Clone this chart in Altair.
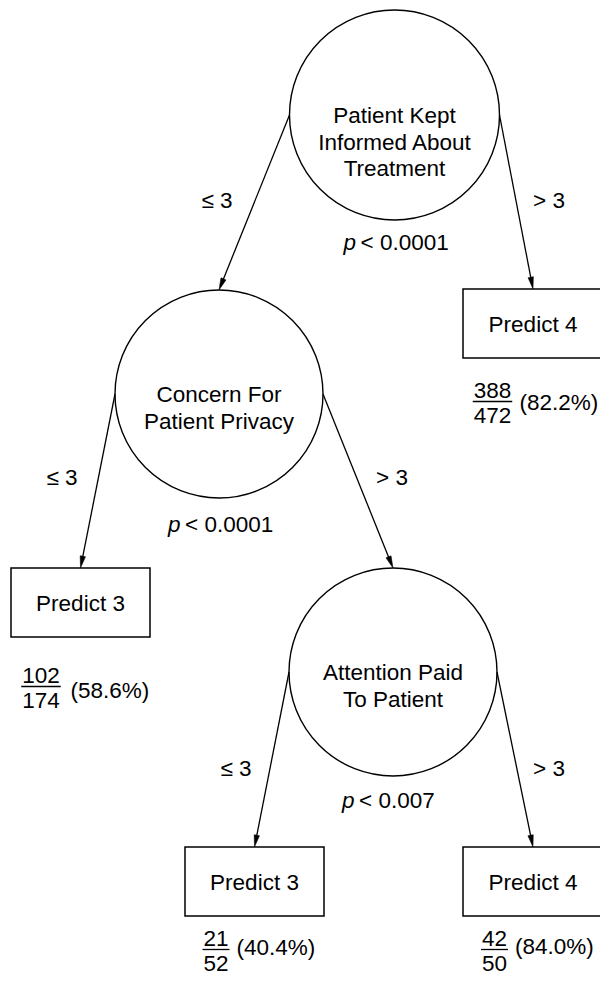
import altair as alt
import pandas as pd
import numpy as np

# ---- split (circle) nodes ----
split_text = ["Patient Kept\nInformed About\nTreatment", "Concern For\nPatient Privacy", "Attention Paid\nTo Patient"]
split_x = [394.5, 219.0, 393.0]
split_y = [115.0, 394.0, 672.0]
split_r = [105.0, 104.0, 104.0]
split_p = ["< 0.0001", "< 0.0001", "< 0.007"]
split_py = [241.5, 524.0, 800.0]

# ---- leaf (box) nodes ----
leaf_text = ["Predict 4", "Predict 3", "Predict 3", "Predict 4"]
leaf_x = [533.0, 80.5, 254.5, 533.0]
leaf_y = [323.5, 602.5, 881.5, 881.5]
leaf_w = [140.0, 139.0, 139.0, 140.0]
leaf_h = [69.0, 69.0, 69.0, 69.0]
leaf_num = ["388", "102", "21", "42"]
leaf_den = ["472", "174", "52", "50"]
leaf_pct = ["(82.2%)", "(58.6%)", "(40.4%)", "(84.0%)"]
frac_x = [492.5, 41.0, 216.0, 494.5]
frac_y = [401.5, 686.5, 949.5, 949.5]
pct_x = [519.5, 70.5, 236.5, 515.0]
pct_y = [402.0, 690.0, 947.0, 946.0]

# ---- edges ----
edge_parent = [0, 0, 1, 1, 2, 2]
edge_side = [-1, 1, -1, 1, -1, 1]
edge_child_kind = ["split", "leaf", "leaf", "split", "leaf", "leaf"]
edge_child_idx = [1, 0, 1, 2, 2, 3]
edge_text = ["≤ 3", "> 3", "≤ 3", "> 3", "≤ 3", "> 3"]
edge_lx = [217.0, 549.0, 62.0, 392.0, 236.0, 549.0]
edge_ly = [200.0, 199.5, 476.5, 476.5, 768.0, 768.0]

FONT = "Liberation Sans"
FS = 22.5
ARROW_R = 6.0

splits = pd.DataFrame({
    "text": split_text, "x": split_x, "y": split_y, "r": split_r,
    "p": split_p, "py": split_py,
})
splits["size"] = (2 * splits["r"]) ** 2
splits["px_p"] = splits["x"] - 51.0
splits["px_rest"] = splits["x"] - 34.0

leaves = pd.DataFrame({
    "text": leaf_text, "x": leaf_x, "y": leaf_y, "w": leaf_w, "h": leaf_h,
    "num": leaf_num, "den": leaf_den, "pct": leaf_pct,
    "fx": frac_x, "fy": frac_y, "pcx": pct_x, "pcy": pct_y,
})
leaves["x1"] = leaves["x"] - leaves["w"] / 2
leaves["x2"] = leaves["x"] + leaves["w"] / 2
leaves["y1"] = leaves["y"] - leaves["h"] / 2
leaves["y2"] = leaves["y"] + leaves["h"] / 2
leaves["numy"] = leaves["fy"] - 11.5
leaves["deny"] = leaves["fy"] + 13.0
ulw = leaves["num"].str.len() * 12.5 + 2
leaves["ux1"] = leaves["fx"] - ulw / 2
leaves["ux2"] = leaves["fx"] + ulw / 2

rows = []
for i in range(len(edge_parent)):
    p = edge_parent[i]
    sx = split_x[p] + edge_side[i] * split_r[p]
    sy = split_y[p]
    c = edge_child_idx[i]
    if edge_child_kind[i] == "split":
        tx, ty = split_x[c], split_y[c] - split_r[c]
    else:
        tx, ty = leaf_x[c], leaf_y[c] - leaf_h[c] / 2
    dx, dy = tx - sx, ty - sy
    L = np.hypot(dx, dy)
    ux, uy = dx / L, dy / L
    ang = np.degrees(np.arctan2(-dx, dy)) % 360
    rows.append({
        "x": sx, "y": sy, "x2": tx - ux * ARROW_R, "y2": ty - uy * ARROW_R,
        "ax": tx - ux * ARROW_R, "ay": ty - uy * ARROW_R, "ang": ang,
        "label": edge_text[i], "lx": edge_lx[i], "ly": edge_ly[i],
    })
edges = pd.DataFrame(rows)

xs = alt.Scale(domain=[8, 600], nice=False, zero=False)
ys = alt.Scale(domain=[8, 976], nice=False, zero=False, reverse=True)


def X(f):
    return alt.X(f, type="quantitative", scale=xs, axis=None)


def Y(f):
    return alt.Y(f, type="quantitative", scale=ys, axis=None)


lines = alt.Chart(edges).mark_rule(color="black", strokeWidth=1.3).encode(
    x=X("x"), y=Y("y"), x2=alt.X2("x2"), y2=alt.Y2("y2"))

heads = alt.Chart(edges).mark_point(
    shape="M-0.45,-1L0.45,-1L0,1Z", filled=True, fill="black", stroke="black",
    strokeWidth=0.5, opacity=1, size=(2 * ARROW_R) ** 2
).encode(x=X("ax"), y=Y("ay"), angle=alt.Angle("ang:Q", scale=None))

circles = alt.Chart(splits).mark_point(
    shape="circle", filled=False, stroke="black", strokeWidth=1.4, opacity=1
).encode(x=X("x"), y=Y("y"), size=alt.Size("size:Q", scale=None, legend=None))

boxes = alt.Chart(leaves).mark_rect(
    fill="white", stroke="black", strokeWidth=1.5
).encode(x=X("x1"), x2=alt.X2("x2"), y=Y("y1"), y2=alt.Y2("y2"))

txt = dict(font=FONT, fontSize=FS, color="black", baseline="middle", dy=1)

split_lbl = alt.Chart(splits).mark_text(align="center", lineBreak="\n", lineHeight=26.5, **txt).encode(
    x=X("x"), y=Y("y"), text="text:N")
p_lbl = alt.Chart(splits).mark_text(align="left", fontStyle="italic", **txt).encode(
    x=X("px_p"), y=Y("py"), text="pp:N").transform_calculate(pp="'p'")
p_rest = alt.Chart(splits).mark_text(align="left", **txt).encode(
    x=X("px_rest"), y=Y("py"), text="p:N")

leaf_lbl = alt.Chart(leaves).mark_text(align="center", **txt).encode(
    x=X("x"), y=Y("y"), text="text:N")
num_lbl = alt.Chart(leaves).mark_text(align="center", **txt).encode(
    x=X("fx"), y=Y("numy"), text="num:N")
den_lbl = alt.Chart(leaves).mark_text(align="center", **txt).encode(
    x=X("fx"), y=Y("deny"), text="den:N")
ul = alt.Chart(leaves).mark_rule(color="black", strokeWidth=1.3).encode(
    x=X("ux1"), x2=alt.X2("ux2"), y=Y("fy"))
pct_lbl = alt.Chart(leaves).mark_text(align="left", **txt).encode(
    x=X("pcx"), y=Y("pcy"), text="pct:N")

edge_lbl = alt.Chart(edges).mark_text(align="center", **txt).encode(
    x=X("lx"), y=Y("ly"), text="label:N")

chart = alt.layer(
    lines, heads, circles, boxes, split_lbl, p_lbl, p_rest, leaf_lbl,
    num_lbl, den_lbl, ul, pct_lbl, edge_lbl
).properties(
    width=592, height=968, padding=0, autosize="none", background="white"
).configure_view(strokeWidth=0)

chart.save("out.html", embed_options={"renderer": "svg", "actions": False})
